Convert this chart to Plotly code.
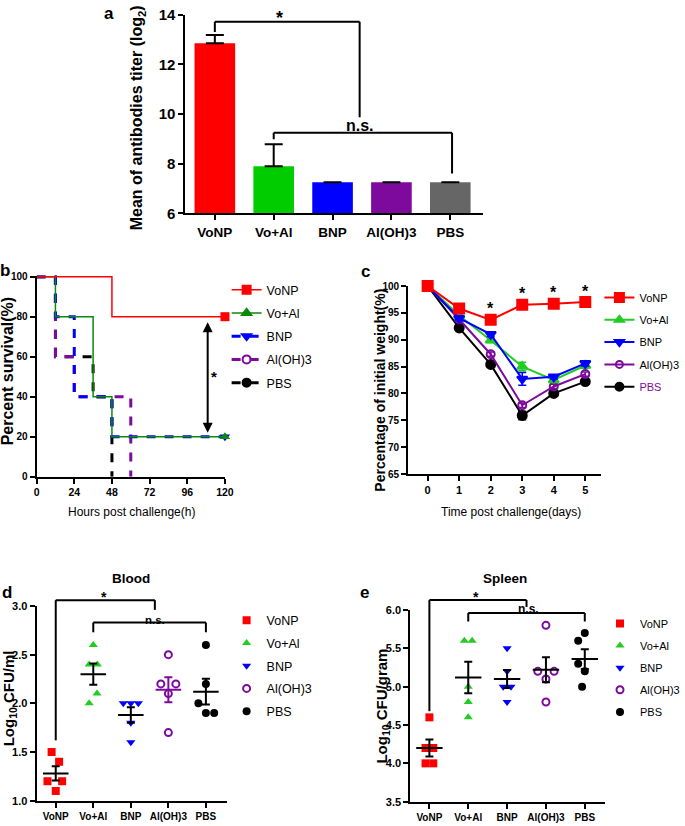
import numpy as np
import plotly.graph_objects as go

W, H = 685, 826

# ---------------- data ----------------
groups = ["VoNP", "Vo+Al", "BNP", "Al(OH)3", "PBS"]

# (a) antibody titer (log2), mean and upper error
titer_mean = [12.85, 7.90, 7.25, 7.25, 7.25]
titer_err = [0.33, 0.88, 0.0, 0.0, 0.0]

# (b) survival curves (step points)
surv_time_vonp = [0, 48, 120]
surv_pct_vonp = [100, 80, 80]
surv_time_voal = [0, 12, 36, 48, 120]
surv_pct_voal = [100, 80, 40, 20, 20]
surv_time_bnp = [0, 12, 24, 48, 120]
surv_pct_bnp = [100, 80, 40, 20, 20]
surv_time_aloh = [0, 12, 24, 60]
surv_pct_aloh = [100, 60, 40, 0]
surv_time_pbs = [0, 12, 36, 48]
surv_pct_pbs = [100, 60, 40, 0]
surv_ticks = [0, 24, 48, 72, 96, 120]

# (c) body weight (% of initial)
days = [0, 1, 2, 3, 4, 5]
wt_vonp = [100, 95.8, 93.7, 96.5, 96.7, 97.0]
wt_vonp_err = [0, 0.4, 0.4, 0.4, 0.4, 0.4]
wt_voal = [100, 94.5, 89.9, 85.0, 82.5, 85.2]
wt_voal_err = [0, 0.3, 0.4, 0.8, 0.3, 0.5]
wt_bnp = [100, 94.0, 91.0, 82.7, 83.1, 85.6]
wt_bnp_err = [0, 0.3, 0.4, 1.2, 0.4, 0.5]
wt_aloh = [100, 93.8, 87.3, 77.8, 81.3, 83.6]
wt_aloh_err = [0, 0.3, 0.4, 0.4, 0.4, 0.4]
wt_pbs = [100, 92.2, 85.4, 75.9, 80.0, 82.2]
wt_pbs_err = [0, 0.3, 0.3, 0.8, 0.3, 0.4]
sig_days = [2, 3, 4, 5]

# (d) blood bacterial load (log10 CFU/ml)
blood_vonp = [1.5, 1.4, 1.2, 1.2, 1.1]
blood_voal = [2.6, 2.4, 2.4, 2.1, 2.0]
blood_bnp = [2.0, 2.0, 2.0, 1.8, 1.6]
blood_aloh = [2.5, 2.2, 2.2, 2.1, 1.7]
blood_pbs = [2.6, 2.2, 2.0, 1.9, 1.9]
blood_jit_vonp = [-0.11, 0.09, -0.22, 0.17, 0.0]
blood_jit_voal = [0.0, -0.11, 0.11, 0.10, -0.11]
blood_jit_bnp = [-0.2, 0.0, 0.2, 0.0, 0.0]
blood_jit_aloh = [0.0, -0.2, 0.2, 0.0, 0.0]
blood_jit_pbs = [0.0, 0.0, -0.2, 0.0, 0.22]

# (e) spleen bacterial load (log10 CFU/gram)
spleen_vonp = [4.6, 4.2, 4.2, 4.0, 4.0]
spleen_voal = [5.6, 5.6, 5.0, 4.8, 4.6]
spleen_bnp = [5.5, 5.2, 5.0, 5.0, 4.8]
spleen_aloh = [5.8, 5.2, 5.2, 5.1, 4.8]
spleen_pbs = [5.7, 5.6, 5.3, 5.2, 5.0]
spleen_jit_vonp = [0.0, -0.1, 0.1, -0.1, 0.1]
spleen_jit_voal = [-0.1, 0.1, 0.0, 0.0, 0.0]
spleen_jit_bnp = [0.0, 0.0, -0.1, 0.1, 0.0]
spleen_jit_aloh = [0.0, -0.21, 0.21, 0.0, 0.0]
spleen_jit_pbs = [0.0, -0.17, -0.17, 0.0, -0.07]

# ---------------- styles ----------------
RED, BLUE, PURPLE, GRAY = "#ff0000", "#0000ff", "#7d0a9c", "#666666"
DKGREEN = "#0a8a0a"
LTGREEN = "#22cc22"
BAR_COLORS = [RED, "#00cc00", BLUE, PURPLE, GRAY]
ARIAL = "Liberation Sans, Arial, Helvetica, sans-serif"


def px(x):
    return x / W


def py(y):
    return 1 - y / H


def nz(v):
    return [e if e > 0 else None for e in v]


fig = go.Figure()

# ---------------- (a) bars ----------------
fig.add_trace(go.Bar(
    x=list(range(len(groups))), y=titer_mean, base=0, width=0.69,
    marker=dict(color=BAR_COLORS, line=dict(width=0)),
    error_y=dict(type="data", symmetric=False, array=nz(titer_err),
                 arrayminus=[0] * 5, color="black", thickness=2, width=9),
    xaxis="x", yaxis="y", showlegend=False))

# ---------------- (b) survival ----------------
surv_series = [
    ("PBS", surv_time_pbs, surv_pct_pbs, "black", "dash", 3, "circle", False),
    ("Al(OH)3", surv_time_aloh, surv_pct_aloh, PURPLE, "dash", 3, "circle-open", False),
    ("BNP", surv_time_bnp, surv_pct_bnp, BLUE, "dash", 3, "triangle-down", True),
    ("Vo+Al", surv_time_voal, surv_pct_voal, DKGREEN, "solid", 1.5, "triangle-up", True),
    ("VoNP", surv_time_vonp, surv_pct_vonp, RED, "solid", 1.5, "square", True),
]
for name, t, s, col, dash, lw, sym, endmark in surv_series:
    fig.add_trace(go.Scatter(x=t, y=s, mode="lines", line=dict(color=col, width=lw, dash=dash, shape="hv"),
                             xaxis="x2", yaxis="y2", showlegend=False, cliponaxis=False))
    if endmark:
        fig.add_trace(go.Scatter(x=[t[-1]], y=[s[-1]], mode="markers",
                                 marker=dict(symbol=sym, size=9, color=col),
                                 xaxis="x2", yaxis="y2", showlegend=False, cliponaxis=False))
for k, (name, t, s, col, dash, lw, sym, endmark) in enumerate(reversed(surv_series)):
    fig.add_trace(go.Scatter(x=[None], y=[None], mode="lines+markers", name=name,
                             line=dict(color=col, width=lw if dash == "solid" else 3, dash=dash),
                             marker=dict(symbol=sym, size=8, color=col, line=dict(width=2, color=col)),
                             xaxis="x2", yaxis="y2", legend="legend", legendgroup="b%d" % k))

# ---------------- (c) weight ----------------
wt_series = [
    ("PBS", wt_pbs, wt_pbs_err, "black", "circle", 9),
    ("Al(OH)3", wt_aloh, wt_aloh_err, PURPLE, "circle-open", 8),
    ("Vo+Al", wt_voal, wt_voal_err, LTGREEN, "triangle-up", 9),
    ("BNP", wt_bnp, wt_bnp_err, BLUE, "triangle-down", 9),
    ("VoNP", wt_vonp, wt_vonp_err, RED, "square", 10),
]
for name, vals, err, col, sym, ms in wt_series:
    fig.add_trace(go.Scatter(
        x=days, y=vals, mode="lines+markers", showlegend=False,
        line=dict(color=col, width=2),
        marker=dict(symbol=sym, size=ms, color=col, line=dict(width=2, color=col)),
        error_y=dict(type="data", array=nz(err), color=col, thickness=1.5, width=4),
        xaxis="x3", yaxis="y3", cliponaxis=False))
legend_c_names = {"PBS": "<span style='color:%s'>PBS</span>" % PURPLE}
for k, name in enumerate(groups):
    _, vals, err, col, sym, ms = [r for r in wt_series if r[0] == name][0]
    fig.add_trace(go.Scatter(
        x=[None], y=[None], mode="lines+markers", name=legend_c_names.get(name, name),
        line=dict(color=col, width=2),
        marker=dict(symbol=sym, size=ms - 1, color=col, line=dict(width=2, color=col)),
        xaxis="x3", yaxis="y3", legend="legend3", legendgroup="c%d" % k))

# ---------------- (d) & (e) scatter ----------------
dot_styles = [
    (RED, "square", 8),
    (LTGREEN, "triangle-up", 8),
    (BLUE, "triangle-down", 8),
    (PURPLE, "circle-open", 7),
    ("black", "circle", 8),
]
blood_sets = [blood_vonp, blood_voal, blood_bnp, blood_aloh, blood_pbs]
blood_jits = [blood_jit_vonp, blood_jit_voal, blood_jit_bnp, blood_jit_aloh, blood_jit_pbs]
spleen_sets = [spleen_vonp, spleen_voal, spleen_bnp, spleen_aloh, spleen_pbs]
spleen_jits = [spleen_jit_vonp, spleen_jit_voal, spleen_jit_bnp, spleen_jit_aloh, spleen_jit_pbs]


def add_dot_panel(sets, jits, xa, ya, leg, stat_colors, tag):
    for i, (vals, jit) in enumerate(zip(sets, jits)):
        col, sym, ms = dot_styles[i]
        fig.add_trace(go.Scatter(
            x=[i + j for j in jit], y=vals, mode="markers", name=groups[i],
            marker=dict(symbol=sym, size=ms, color=col,
                        line=dict(width=2, color=col) if "open" in sym else dict(width=0)),
            xaxis=xa, yaxis=ya, legend=leg, legendgroup="%s%d" % (tag, i), cliponaxis=False))
    for i, vals in enumerate(sets):
        v = np.array(vals, dtype=float)
        m = v.mean()
        sem = v.std(ddof=1) / np.sqrt(len(v))
        sc = stat_colors[i]
        fig.add_trace(go.Scatter(x=[i - 0.34, i + 0.34], y=[m, m], mode="lines",
                                 line=dict(color=sc, width=2), xaxis=xa, yaxis=ya,
                                 showlegend=False, cliponaxis=False))
        fig.add_trace(go.Scatter(x=[i], y=[m], mode="markers", marker=dict(size=1, opacity=0),
                                 error_y=dict(type="data", array=[sem], color=sc, thickness=2, width=4),
                                 xaxis=xa, yaxis=ya, showlegend=False, cliponaxis=False))


add_dot_panel(blood_sets, blood_jits, "x4", "y4", "legend4",
              ["black", "black", "black", PURPLE, "black"], "d")
add_dot_panel(spleen_sets, spleen_jits, "x5", "y5", "legend5", ["black"] * 5, "e")

# ---------------- axes ----------------
ax_common = dict(showline=True, linecolor="black", linewidth=2, ticks="outside", ticklen=5,
                 tickwidth=2, tickcolor="black", showgrid=False, zeroline=False, automargin=False)


def tf(size):
    return dict(family=ARIAL, size=size, color="black", weight="bold")


RNG_A = [6, 14]
RNG_D = [1, 3]
RNG_E = [3.5, 6]
XR_D = [-0.51, 4.57]
XR_E = [-0.49, 4.52]

fig.update_layout(
    template="none",
    width=W, height=H, margin=dict(l=0, r=0, t=0, b=0, pad=0), autosize=False,
    paper_bgcolor="white", plot_bgcolor="white",
    xaxis=dict(domain=[px(189), px(492)], range=[-0.5, 4.55], anchor="y",
               tickvals=list(range(5)), ticktext=groups, tickfont=tf(13.5), **ax_common),
    yaxis=dict(domain=[py(213.3), py(14.7)], range=RNG_A, anchor="x", tickvals=[6, 8, 10, 12, 14],
               tickfont=tf(15), **ax_common),
    xaxis2=dict(domain=[px(37.3), px(229.3)], range=[0, 120], anchor="y2", tickvals=surv_ticks,
                tickfont=tf(10.5), **ax_common),
    yaxis2=dict(domain=[py(476.7), py(275.5)], range=[0, 100.6], anchor="x2", tickvals=[0, 20, 40, 60, 80, 100],
                tickfont=tf(10), **ax_common),
    xaxis3=dict(domain=[px(416), px(613)], range=[-0.62, 5.51], anchor="y3", tickvals=days,
                tickfont=tf(11), **ax_common),
    yaxis3=dict(domain=[py(474), py(286)], range=[65, 100], anchor="x3", tickvals=[65, 70, 75, 80, 85, 90, 95, 100],
                tickfont=tf(10), **ax_common),
    xaxis4=dict(domain=[px(37.3), px(231.7)], range=XR_D, anchor="y4", tickvals=list(range(5)), ticktext=groups,
                tickfont=tf(10), **ax_common),
    yaxis4=dict(domain=[py(800.7), py(606)], range=RNG_D, anchor="x4", tickvals=[1.0, 1.5, 2.0, 2.5, 3.0],
                tickformat=".1f", tickfont=tf(11), **ax_common),
    xaxis5=dict(domain=[px(418.3), px(616.7)], range=XR_E, anchor="y5", tickvals=list(range(5)), ticktext=groups,
                tickfont=tf(10), **ax_common),
    yaxis5=dict(domain=[py(801.7), py(610)], range=RNG_E, anchor="x5", tickvals=[3.5, 4.0, 4.5, 5.0, 5.5, 6.0],
                tickformat=".1f", tickfont=tf(11), **ax_common),
)


def leg(x, y, size, gap):
    return dict(x=px(x), y=py(y), xanchor="left", yanchor="top", bgcolor="rgba(0,0,0,0)", borderwidth=0,
                font=dict(family=ARIAL, size=size, color="black"), tracegroupgap=gap, itemwidth=30,
                traceorder="grouped")


fig.update_layout(
    legend=leg(231, 275, 12.5, 4),
    legend3=leg(611, 283, 11, 3.3),
    legend4=leg(231, 605.5, 12.5, 3.5),
    legend5=leg(612, 609, 11, 3.1),
)

# ---------------- annotations / brackets ----------------
ann = []
shapes = []


def text(x, y, s, size=15, bold=True, angle=0, xref="paper", yref="paper", color="black",
         xanchor="center", yanchor="middle", **kw):
    ann.append(dict(x=x, y=y, xref=xref, yref=yref, text=s, showarrow=False, textangle=angle,
                    xanchor=xanchor, yanchor=yanchor,
                    font=dict(family=ARIAL, size=size, color=color, weight="bold" if bold else "normal"), **kw))


def line(x0, y0, x1, y1, xref, yref, w=2):
    shapes.append(dict(type="line", x0=x0, y0=y0, x1=x1, y1=y1, xref=xref, yref=yref,
                       line=dict(color="black", width=w)))


def dom(v, r):
    return (v - r[0]) / (r[1] - r[0])


# panel labels
text(px(111), py(14), "a", size=17)
text(px(5), py(270), "b", size=17)
text(px(373), py(271), "c", size=17)
text(px(7), py(592), "d", size=17)
text(px(372), py(592), "e", size=17)

# axis titles
text(px(141), py(118), "Mean of antibodies titer (log<sub>2</sub>)", size=16, angle=-90)
text(px(7.5), py(371), "Percent survival(%)", size=16, angle=-90)
text(px(134), py(512), "Hours post challenge(h)", size=12, bold=False)
text(px(387), py(390), "Percentage of initial weight(%)", size=14, angle=-90)
text(px(521), py(512), "Time post challenge(days)", size=12, bold=False)
text(px(9.5), py(698), "Log<sub>10</sub> CFU/ml", size=15, angle=-90)
text(px(389), py(706), "Log<sub>10</sub> CFU/gram", size=15, angle=-90)
text(px(134), py(578), "Blood", size=13.5)
text(px(515), py(578), "Spleen", size=13.5)

# (a) brackets
line(0, 13.3, 0, 13.72, "x", "y")
line(0, 13.72, 2.46, 13.72, "x", "y")
line(2.46, 13.72, 2.46, 9.87, "x", "y")
line(1, 8.98, 1, 9.24, "x", "y")
line(1, 9.24, 4.03, 9.24, "x", "y")
line(4.03, 9.24, 4.03, 7.6, "x", "y")
text(1.1, 13.72, "*", size=18, xref="x", yref="y", yanchor="bottom", yshift=-8)
text(2.46, 9.24, "n.s.", size=16, xref="x", yref="y", yanchor="bottom", yshift=-3)

# (b) arrow and star
ann.append(dict(x=109, y=22, ax=109, ay=78, xref="x2", yref="y2", axref="x2", ayref="y2",
                text="", showarrow=True, arrowhead=2, startarrowhead=2, arrowside="end+start",
                arrowwidth=2, arrowsize=1, startarrowsize=1, arrowcolor="black"))
text(113, 50, "*", size=15, xref="x2", yref="y2")

# (c) stars
for d in sig_days:
    text(d, wt_vonp[d], "*", size=16, xref="x3", yref="y3", yshift=11)

# (d) brackets
xd = lambda v: dom(v, XR_D)
yd = lambda v: dom(v, RNG_D)
line(xd(0), yd(1.62), xd(0), yd(3.06), "x4 domain", "y4 domain")
line(xd(0), yd(3.06), xd(2.64), yd(3.06), "x4 domain", "y4 domain")
line(xd(2.64), yd(3.06), xd(2.64), yd(2.96), "x4 domain", "y4 domain")
line(xd(1), yd(2.73), xd(1), yd(2.83), "x4 domain", "y4 domain")
line(xd(1), yd(2.83), xd(4), yd(2.83), "x4 domain", "y4 domain")
line(xd(4), yd(2.83), xd(4), yd(2.73), "x4 domain", "y4 domain")
text(xd(1.29), yd(3.06), "*", size=14, xref="x4 domain", yref="y4 domain", yanchor="bottom", yshift=-7)
text(xd(2.65), yd(2.83), "n.s.", size=11.5, xref="x4 domain", yref="y4 domain", yanchor="bottom", yshift=-5)

# (e) brackets
xe = lambda v: dom(v, XR_E)
ye = lambda v: dom(v, RNG_E)
line(xe(0), ye(4.68), xe(0), ye(6.13), "x5 domain", "y5 domain")
line(xe(0), ye(6.13), xe(2.5), ye(6.13), "x5 domain", "y5 domain")
line(xe(2.5), ye(6.13), xe(2.5), ye(6.04), "x5 domain", "y5 domain")
line(xe(1), ye(5.85), xe(1), ye(5.96), "x5 domain", "y5 domain")
line(xe(1), ye(5.96), xe(4), ye(5.96), "x5 domain", "y5 domain")
line(xe(4), ye(5.96), xe(4), ye(5.85), "x5 domain", "y5 domain")
text(xe(1.2), ye(6.13), "*", size=14, xref="x5 domain", yref="y5 domain", yanchor="bottom", yshift=-7)
text(xe(2.55), ye(5.96), "n.s.", size=12, xref="x5 domain", yref="y5 domain", yanchor="bottom", yshift=-5)

fig.update_layout(annotations=ann, shapes=shapes)

fig.write_html("out.html", config={"displayModeBar": False},
               post_script="document.body.style.margin='0px';")
